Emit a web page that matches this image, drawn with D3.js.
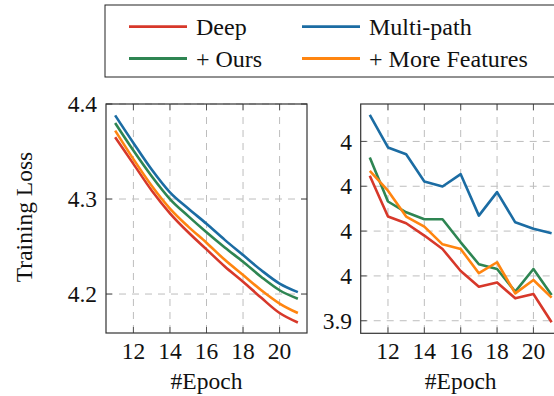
<!DOCTYPE html>
<html><head><meta charset="utf-8">
<script src="https://cdn.jsdelivr.net/npm/d3@7"></script>
<style>
html,body{margin:0;padding:0;background:#fff;}
</style></head>
<body>
<svg id="chart" width="554" height="396"></svg>
<script>
const epochs = [11,12,13,14,15,16,17,18,19,20,21];
const seriesNames = ["Deep","Multi-path","+ Ours","+ More Features"];
const seriesColors = ["#d7382a","#1b6ca3","#2e8552","#ff8510"];
// Left panel
const deepL   = [4.365,4.337,4.309,4.285,4.265,4.247,4.229,4.213,4.196,4.180,4.170];
const multiL  = [4.388,4.359,4.331,4.307,4.290,4.274,4.257,4.241,4.225,4.211,4.202];
const oursL   = [4.380,4.351,4.324,4.300,4.282,4.265,4.249,4.234,4.218,4.204,4.195];
const moreL   = [4.372,4.342,4.314,4.290,4.271,4.254,4.236,4.220,4.204,4.190,4.180];
// Right panel
const deepR   = [3.9647,3.9465,3.9435,3.9380,3.9320,3.9222,3.9152,3.9171,3.9100,3.9119,3.8993];
const multiR  = [3.9919,3.9773,3.9743,3.9621,3.9599,3.9654,3.9469,3.9574,3.9439,3.9410,3.9390];
const oursR   = [3.9728,3.9532,3.9484,3.9453,3.9453,3.9350,3.9252,3.9231,3.9130,3.9231,3.9115];
const moreR   = [3.9669,3.9580,3.9465,3.9420,3.9341,3.9320,3.9212,3.9261,3.9122,3.9182,3.9103];
const xTicks = [12,14,16,18,20];
const yTicksL = [4.2,4.3,4.4];
const yTickLabelsL = ["4.2","4.3","4.4"];
const yTicksR = [3.90,3.92,3.94,3.96,3.98];
const yTickLabelsR = ["3.9","4","4","4","4"];
const xLabel = "#Epoch";
const yLabel = "Training Loss";

const svg = d3.select("#chart");
const FS = 23.5;
const FF = "'Liberation Serif', 'DejaVu Serif', serif";

function txt(sel, fs){ return sel.attr("font-family",FF).attr("font-size",fs||FS).attr("fill","#111"); }

function panel(cfg){
  const {x0,x1,y0,y1,ydom,series,yTicks,yLabels,labelX,curve} = cfg;
  const x = d3.scaleLinear().domain([10.5,21.5]).range([x0,x1]);
  const y = d3.scaleLinear().domain(ydom).range([y1,y0]);
  const g = svg.append("g");
  g.selectAll(".gx").data(xTicks).join("line")
    .attr("x1",d=>x(d)).attr("x2",d=>x(d)).attr("y1",y0).attr("y2",y1)
    .attr("stroke","#bdbdbd").attr("stroke-width",1).attr("stroke-dasharray","7,6");
  g.selectAll(".gy").data(yTicks).join("line")
    .attr("x1",x0).attr("x2",x1).attr("y1",d=>y(d)).attr("y2",d=>y(d))
    .attr("stroke","#bdbdbd").attr("stroke-width",1).attr("stroke-dasharray","7,6");
  const tl = 6;
  xTicks.forEach(t=>{
    g.append("line").attr("x1",x(t)).attr("x2",x(t)).attr("y1",y1).attr("y2",y1-tl).attr("stroke","#555").attr("stroke-width",1);
    g.append("line").attr("x1",x(t)).attr("x2",x(t)).attr("y1",y0).attr("y2",y0+tl).attr("stroke","#555").attr("stroke-width",1);
  });
  yTicks.forEach(t=>{
    g.append("line").attr("x1",x0).attr("x2",x0+tl).attr("y1",y(t)).attr("y2",y(t)).attr("stroke","#555").attr("stroke-width",1);
    g.append("line").attr("x1",x1).attr("x2",x1-tl).attr("y1",y(t)).attr("y2",y(t)).attr("stroke","#555").attr("stroke-width",1);
  });
  const line = d3.line().x((d,i)=>x(epochs[i])).y(d=>y(d)).curve(curve);
  series.forEach((s,k)=>{
    g.append("path").datum(s).attr("d",line).attr("fill","none")
      .attr("stroke",seriesColors[k]).attr("stroke-width",2.6).attr("stroke-linejoin","round");
  });
  g.append("rect").attr("x",x0).attr("y",y0).attr("width",x1-x0).attr("height",y1-y0)
    .attr("fill","none").attr("stroke","#333").attr("stroke-width",1.2);
  txt(g.selectAll(".xt").data(xTicks).join("text"))
    .attr("x",d=>x(d)).attr("y",y1+26).attr("text-anchor","middle").text(d=>d);
  txt(g.selectAll(".yt").data(yTicks).join("text"))
    .attr("x",labelX).attr("y",d=>y(d)).attr("dy","0.35em").attr("text-anchor","end")
    .text((d,i)=>yLabels[i]);
  txt(g.append("text")).attr("x",(x0+Math.min(x1,561))/2).attr("y",y1+56).attr("text-anchor","middle")
    .text(xLabel);
}

panel({x0:106,x1:307,y0:104,y1:333,ydom:[4.159,4.4],
  series:[deepL,multiL,oursL,moreL],yTicks:yTicksL,yLabels:yTickLabelsL,labelX:97,curve:d3.curveMonotoneX});
panel({x0:360.7,x1:560.7,y0:104,y1:333.3,ydom:[3.8944,3.9967],
  series:[deepR,multiR,oursR,moreR],yTicks:yTicksR,yLabels:yTickLabelsR,labelX:352,curve:d3.curveLinear});

txt(svg.append("text")).attr("transform","translate(32,217) rotate(-90)")
  .attr("text-anchor","middle").text(yLabel);

const lg = svg.append("g");
lg.append("rect").attr("x",105).attr("y",5).attr("width",470).attr("height",72)
  .attr("fill","#fff").attr("stroke","#222").attr("stroke-width",1);
const pos = [[129,26.7],[302,26.7],[129,58.5],[302,58.5]];
seriesNames.forEach((n,k)=>{
  const [lx,ly] = pos[k];
  lg.append("line").attr("x1",lx).attr("x2",lx+58).attr("y1",ly).attr("y2",ly)
    .attr("stroke",seriesColors[k]).attr("stroke-width",2.8);
  txt(lg.append("text"), 24).attr("x",lx+67).attr("y",ly).attr("dy","0.35em").text(n);
});
</script>
</body></html>
